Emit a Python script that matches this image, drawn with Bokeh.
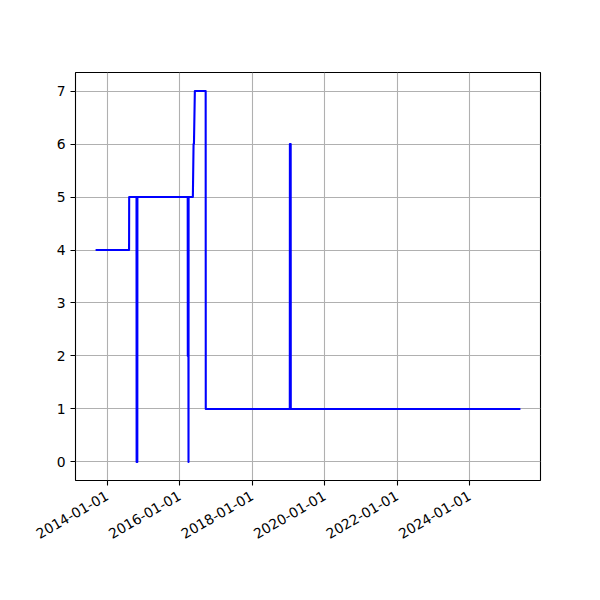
import math
import pandas as pd
from bokeh.plotting import figure
from bokeh.models import Range1d, FixedTicker, DatetimeTickFormatter, ColumnDataSource
from bokeh.embed import file_html
from bokeh.resources import INLINE

# ---- data ----
dates = ["2013-09-16", "2014-08-09", "2014-08-10", "2014-10-23", "2014-10-24",
         "2014-10-31", "2014-11-01", "2016-03-22", "2016-03-23", "2016-03-27",
         "2016-03-28", "2016-03-30", "2016-03-31", "2016-05-13", "2016-05-20",
         "2016-05-24", "2016-06-02", "2016-09-19", "2016-09-20", "2019-01-15",
         "2019-01-16", "2019-01-24", "2019-01-25", "2025-05-17"]
values = [4, 4, 5, 5, 0, 0, 5, 5, 2, 2, 5, 0, 5, 5, 6, 6, 7, 7, 1, 1, 6, 6, 1, 1]
x_tick_dates = ["2014-01-01", "2016-01-01", "2018-01-01", "2020-01-01",
                "2022-01-01", "2024-01-01"]
y_ticks = [0, 1, 2, 3, 4, 5, 6, 7]

# ---- build ----
x = pd.to_datetime(dates)
src = ColumnDataSource(dict(x=x, y=values))

def ms(d):
    return pd.Timestamp(d).value / 1e6

t0, t1 = ms(dates[0]), ms(dates[-1])
xpad = 0.05 * (t1 - t0)
ymin, ymax = min(values), max(values)
ypad = 0.05 * (ymax - ymin)

p = figure(x_axis_type="datetime", output_backend="svg", toolbar_location=None,
           frame_width=465, frame_height=408,
           min_border_left=75, min_border_right=52,
           min_border_top=72, min_border_bottom=112,
           x_range=Range1d(t0 - xpad, t1 + xpad),
           y_range=Range1d(ymin - ypad, ymax + ypad))

p.line("x", "y", source=src, line_color="#0000ff", line_width=2.1,
       line_join="round", line_cap="square")

xt = FixedTicker(ticks=[ms(d) for d in x_tick_dates])
p.xaxis.ticker = xt
p.xgrid.ticker = xt
fmt = "%Y-%m-%d"
p.xaxis.formatter = DatetimeTickFormatter(
    milliseconds=fmt, seconds=fmt, minsec=fmt, minutes=fmt, hourmin=fmt,
    hours=fmt, days=fmt, months=fmt, years=fmt)
p.xaxis.major_label_orientation = math.pi / 6

yt = FixedTicker(ticks=y_ticks)
p.yaxis.ticker = yt
p.ygrid.ticker = yt

for ax in (p.xaxis[0], p.yaxis[0]):
    ax.axis_line_color = None
    ax.major_tick_in = 0
    ax.major_tick_out = 5
    ax.major_tick_line_color = "black"
    ax.major_tick_line_width = 1.1
    ax.minor_tick_line_color = None
    ax.major_label_text_font = "DejaVu Sans"
    ax.major_label_text_font_size = "13.9px"
    ax.major_label_text_color = "black"
    ax.major_label_standoff = 5
p.xaxis[0].major_label_standoff = 9

for g in (p.xgrid[0], p.ygrid[0]):
    g.grid_line_color = "#b0b0b0"
    g.grid_line_width = 1.1

p.outline_line_color = "black"
p.outline_line_width = 1.1
p.outline_line_alpha = 1.0
p.background_fill_color = "white"
p.border_fill_color = "white"

open("out.html", "w").write(file_html(p, INLINE))
